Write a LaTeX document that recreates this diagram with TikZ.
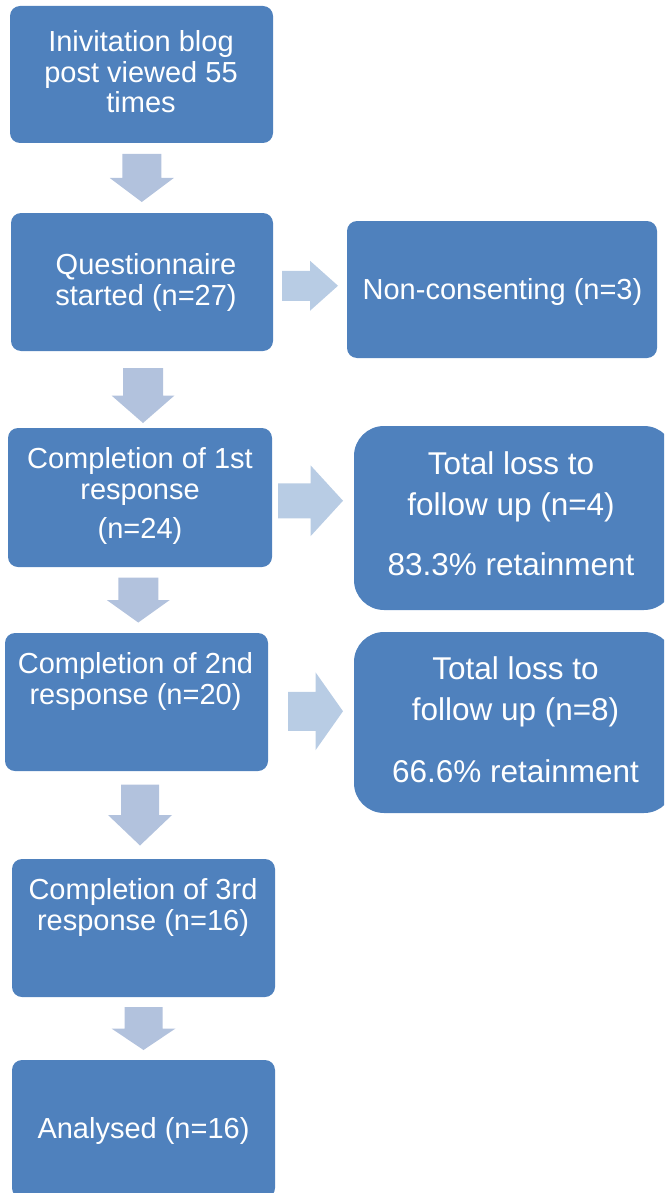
\documentclass[tikz,border=0pt]{standalone}
\usepackage{fontspec}
\setmainfont{Liberation Sans}
\usetikzlibrary{calc}

\definecolor{boxblue}{RGB}{79,129,189}
\definecolor{arrowgrey}{RGB}{178,194,221}
\definecolor{arrowlight}{RGB}{184,204,228}

% block arrow: [colour]{centre}{angle}{length}{shaft}{head}
\newcommand{\blockarrow}[6][arrowgrey]{%
  \fill[#1, shift={#2}, rotate=#3] (-#4/2,-#5/2) -- (0,-#5/2) -- (0,-#6/2)
    -- (#4/2,0) -- (0,#6/2) -- (0,#5/2) -- (-#4/2,#5/2) -- cycle;}

\begin{document}
\begin{tikzpicture}[x=1pt,y=-1pt,
    box/.style={fill=boxblue, rounded corners=10pt, inner sep=0pt,
      minimum width=263pt, minimum height=138pt},
    lossbox/.style={box, rounded corners=30pt, minimum width=320pt},
    txt/.style={text=white, align=center, anchor=base, inner sep=0pt,
      font=\fontsize{29}{30.5}\selectfont},
    losstxt/.style={txt, font=\fontsize{31.5}{40.5}\selectfont}]
    \useasboundingbox (0,0) rectangle (664,1193);
    \clip (0,0) rectangle (664,1193);

    % main column
    \node[box, minimum height=137pt] (invite) at (141.5,74.5) {};
    \node[box, minimum width=262pt] (started) at (142,282) {};
    \node[box, minimum width=264pt, minimum height=139pt] (first) at (140,497.5) {};
    \node[box] (second) at (136.5,702) {};
    \node[box] (third) at (143.5,928) {};
    \node[box] (analysed) at (143.5,1129) {};

    % side boxes
    \node[box, minimum width=310pt, minimum height=137pt] (nonconsent) at (502,289.5) {};
    \node[lossbox, minimum height=184pt] (lossa) at (514,518) {};
    \node[lossbox, minimum height=181pt] (lossb) at (514,722.5) {};

    % texts (base = baseline of the last line)
    \node[txt] (invitetext) at (141,113) {Inivitation blog\\post viewed 55\\times};
    \node[txt] (startedtext) at (146,305) {Questionnaire\\started (n=27)};
    \node[txt] (firsttext) at (140,538) {Completion of 1st\\response\\[8.5pt](n=24)};
    \node[txt] (secondtext) at (135.5,704) {Completion of 2nd\\response (n=20)};
    \node[txt] (thirdtext) at (143,930) {Completion of 3rd\\response (n=16)};
    \node[txt] (analysedtext) at (143.5,1138) {Analysed (n=16)};
    \node[txt] (nonconsenttext) at (502.5,299) {Non-consenting (n=3)};
    \node[losstxt] (lossatext) at (511,575) {Total loss to\\follow up (n=4)\\[19.5pt]83.3\% retainment};
    \node[losstxt] (lossbtext) at (515.5,782) {Total loss to\\follow up (n=8)\\[21.5pt]66.6\% retainment};

    % arrows
    \blockarrow{($(invite.south)!0.5!(started.north)$)}{-90}{48}{39}{64}
    \blockarrow{($(started.south)!0.5!(first.north)+(2,6)$)}{-90}{55}{40}{63}
    \blockarrow{($(first.south)!0.5!(second.north)$)}{-90}{45}{40}{63}
    \blockarrow{($(second.south)!0.5!(third.north)$)}{-90}{61}{38}{64}
    \blockarrow{($(third.south)!0.5!(analysed.north)$)}{-90}{43}{38}{64}
    \blockarrow[arrowlight]{($(started.east)!0.5!(nonconsent.west)$)}{0}{56}{30}{50}
    \blockarrow[arrowlight]{($(first.east)!0.5!(lossa.west)+(-2.5,-7)$)}{0}{65}{35}{71}
    \blockarrow[arrowlight]{($(second.east)!0.5!(lossb.west)+(4.5,-1)$)}{0}{55}{39}{78}
\end{tikzpicture}
\end{document}
